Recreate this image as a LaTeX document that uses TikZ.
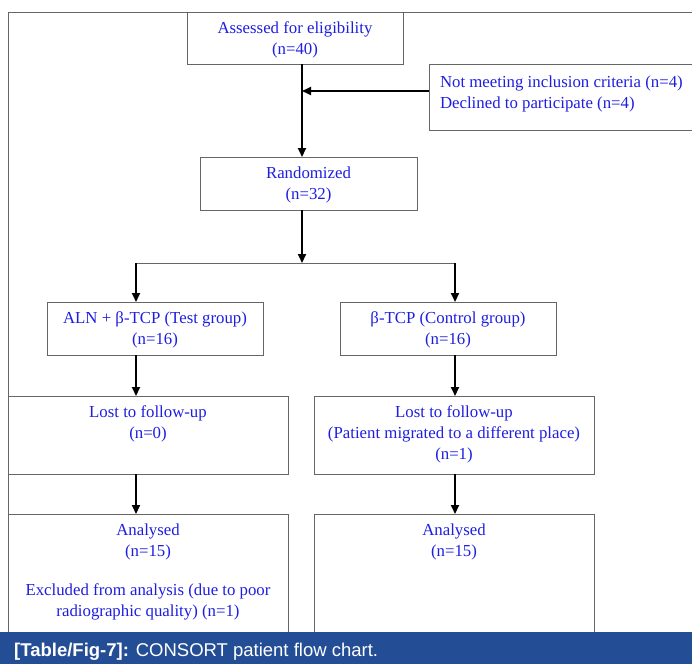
\documentclass[tikz,border=0pt]{standalone}
\usepackage{fontspec}
\setmainfont{Liberation Serif}
\newfontfamily\capfont{Liberation Sans}
\usetikzlibrary{arrows.meta}
\definecolor{flowblue}{RGB}{30,30,225}
\definecolor{capblue}{RGB}{35,78,150}
% box of fixed size, text from the top
\newcommand{\boxtext}[3]{\parbox[c][#2][t]{#1}{\centering\rule{0pt}{21pt}#3}}

\begin{document}
\begin{tikzpicture}[x=1pt, y=-1pt,
	box/.style={draw=black!60, line width=0.9pt, inner sep=0pt, outer sep=0pt, anchor=north west, text=flowblue, font=\fontsize{16.8}{21}\selectfont},
	arr/.style={-{Triangle[length=9pt,width=8pt]}, line width=2pt},
	rule/.style={draw=black!60, line width=0.9pt}]
	\useasboundingbox (0,0) rectangle (692,664);
	\clip (0,0) rectangle (692,664);
	\draw[rule] (8,632) -- (8,12) -- (692,12);
	% boxes
	\node[box] (assess) at (187,12) {\boxtext{216pt}{52pt}{Assessed for eligibility\\(n=40)}};
	\node[box] (excl) at (429,64) {\parbox[c][66pt][t]{270pt}{\leftskip=11pt\rule{0pt}{23pt}Not meeting inclusion criteria (n=4)\\Declined to participate (n=4)}};
	\node[box] (rand) at (200,157) {\boxtext{217pt}{53pt}{Randomized\\(n=32)}};
	\node[box] (test) at (47,302) {\boxtext{216pt}{53pt}{ALN + β-TCP (Test group)\\(n=16)}};
	\node[box] (ctrl) at (340,302) {\boxtext{216pt}{53pt}{β-TCP (Control group)\\(n=16)}};
	\node[box] (lostl) at (8,396) {\boxtext{280pt}{78pt}{Lost to follow-up\\(n=0)}};
	\node[box] (lostr) at (314,396) {\boxtext{280pt}{78pt}{Lost to follow-up\\(Patient migrated to a different place)\\(n=1)}};
	\node[box] (anl) at (8,514) {\boxtext{280pt}{130pt}{Analysed\\(n=15)\\[18pt]Excluded from analysis (due to poor\\radiographic quality) (n=1)}};
	\node[box] (anr) at (314,514) {\boxtext{280pt}{130pt}{Analysed\\(n=15)}};
	% connectors
	\coordinate (split) at (302,263);
	\coordinate (lsplit) at (136,263);
	\coordinate (rsplit) at (455,263);
	\draw[arr] (assess.south -| split) -- (rand.north -| split);
	\draw[arr] ([yshift=6pt]excl.west) -- ([yshift=6pt]excl.west -| split);
	\draw[arr] (rand.south -| split) -- (split);
	\draw[rule] (lsplit) -- (rsplit);
	\draw[arr] (lsplit) -- (test.north -| lsplit);
	\draw[arr] (rsplit) -- (ctrl.north -| rsplit);
	\draw[arr] (test.south -| lsplit) -- (lostl.north -| lsplit);
	\draw[arr] (ctrl.south -| rsplit) -- (lostr.north -| rsplit);
	\draw[arr] (lostl.south -| lsplit) -- (anl.north -| lsplit);
	\draw[arr] (lostr.south -| rsplit) -- (anr.north -| rsplit);
	% caption
	\fill[capblue] (0,632) rectangle (692,664);
	\node[anchor=base west, inner sep=0pt, text=white, font=\capfont\fontsize{18.5}{22}\selectfont] (caption) at (14,656) {\textbf{[Table/Fig-7]:} CONSORT patient flow chart.};
\end{tikzpicture}
\end{document}
